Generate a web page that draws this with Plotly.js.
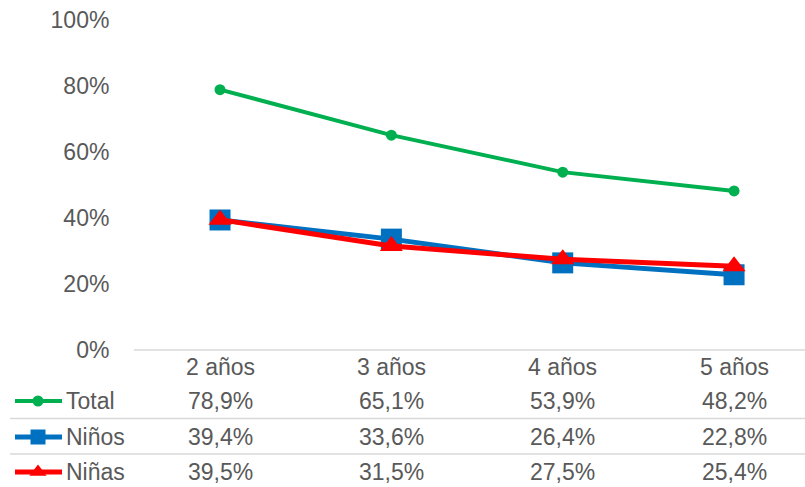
<!DOCTYPE html>
<html>
<head>
<meta charset="utf-8">
<script src="https://cdn.plot.ly/plotly-3.0.1.min.js"></script>
<style>html,body{margin:0;padding:0;background:#fff;}#chart{width:805px;height:487px;}</style>
</head>
<body>
<div id="chart"></div>
<script>
const categories = ["2 años", "3 años", "4 años", "5 años"];
const seriesNames = ["Total", "Niños", "Niñas"];
const totalValues = [78.9, 65.1, 53.9, 48.2];
const ninosValues = [39.4, 33.6, 26.4, 22.8];
const ninasValues = [39.5, 31.5, 27.5, 25.4];
const yTicks = [0, 20, 40, 60, 80, 100];

const W = 805, H = 487;
const FONT = "Liberation Sans, Arial, sans-serif";
const TXT = "#595959";
const FS = 23;

const styles = [
  {color: "#00B050", symbol: "circle", size: 11, width: 4},
  {color: "#0070C0", symbol: "square", size: 21, width: 5},
  {color: "#FF0000", symbol: "triangle-up", size: 20, width: 5}
];
const allValues = [totalValues, ninosValues, ninasValues];
const xIdx = categories.map((c, i) => i);

const traces = [];
[1, 0, 2].forEach(k => {
  traces.push({
    x: xIdx, y: allValues[k].map(v => v / 100),
    type: "scatter", mode: "lines+markers", name: seriesNames[k],
    line: {color: styles[k].color, width: styles[k].width},
    marker: {color: styles[k].color, symbol: styles[k].symbol, size: styles[k].size},
    xaxis: "x", yaxis: "y", hoverinfo: "skip", showlegend: false, cliponaxis: false
  });
});

const rowY = [401, 437, 472];
const headerY = 367;

seriesNames.forEach((n, k) => {
  traces.push({
    x: [15, 38, 62], y: [rowY[k], rowY[k], rowY[k]],
    type: "scatter", mode: "lines", line: {color: styles[k].color, width: styles[k].width},
    xaxis: "x2", yaxis: "y2", hoverinfo: "skip", showlegend: false
  });
  traces.push({
    x: [38], y: [rowY[k]],
    type: "scatter", mode: "markers",
    marker: {color: styles[k].color, symbol: styles[k].symbol, size: k === 0 ? 11 : 15},
    xaxis: "x2", yaxis: "y2", hoverinfo: "skip", showlegend: false
  });
});

const annotations = [];
categories.forEach((c, i) => {
  annotations.push({x: i, y: headerY, xref: "x", yref: "y2", text: c, showarrow: false,
    font: {family: FONT, size: FS, color: TXT}, xanchor: "center", yanchor: "middle"});
});
allValues.forEach((vals, k) => {
  annotations.push({x: 64, y: rowY[k], xref: "x2", yref: "y2", text: seriesNames[k], showarrow: false,
    font: {family: FONT, size: FS, color: TXT}, xanchor: "left", yanchor: "middle"});
  vals.forEach((v, i) => {
    annotations.push({x: i, y: rowY[k], xref: "x", yref: "y2",
      text: v.toFixed(1).replace(".", ",") + "%", showarrow: false,
      font: {family: FONT, size: FS, color: TXT}, xanchor: "center", yanchor: "middle"});
  });
});

const shapes = [
  {type: "line", xref: "x2", yref: "y2", x0: 134, x1: 805, y0: 350, y1: 350, line: {color: "#D9D9D9", width: 1.5}},
  {type: "line", xref: "x2", yref: "y2", x0: 10, x1: 805, y0: 418.5, y1: 418.5, line: {color: "#D9D9D9", width: 1.5}},
  {type: "line", xref: "x2", yref: "y2", x0: 10, x1: 805, y0: 454, y1: 454, line: {color: "#D9D9D9", width: 1.5}}
];

const layout = {
  width: W, height: H,
  margin: {l: 0, r: 0, t: 0, b: 0, pad: 0},
  paper_bgcolor: "#fff", plot_bgcolor: "rgba(0,0,0,0)",
  showlegend: false,
  xaxis: {domain: [134 / W, 1], range: [-0.502, 3.414], showgrid: false, zeroline: false,
    showticklabels: false, showline: false, ticks: "", fixedrange: true, anchor: "y"},
  yaxis: {domain: [(H - 350) / H, (H - 20) / H], range: [0, 1], showgrid: false, zeroline: false,
    showline: false, tickvals: yTicks.map(v => v / 100), ticktext: yTicks.map(v => v + "%"),
    ticks: "outside", ticklen: 19, tickcolor: "rgba(0,0,0,0)", anchor: "x",
    tickfont: {family: FONT, size: FS, color: TXT}, fixedrange: true},
  xaxis2: {domain: [0, 1], range: [0, W], visible: false, anchor: "y2", fixedrange: true},
  yaxis2: {domain: [0, 1], range: [H, 0], visible: false, anchor: "x2", fixedrange: true},
  annotations: annotations,
  shapes: shapes
};

Plotly.newPlot("chart", traces, layout, {displayModeBar: false, staticPlot: true});
</script>
</body>
</html>
